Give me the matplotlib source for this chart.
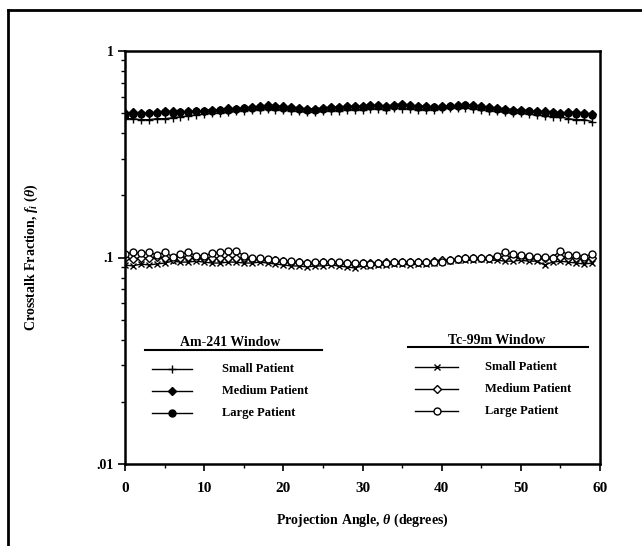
import matplotlib
matplotlib.use("Agg")
import matplotlib.pyplot as plt
from matplotlib.lines import Line2D
import numpy as np

plt.rcParams['font.family'] = ['Liberation Serif', 'DejaVu Serif']
plt.rcParams['mathtext.fontset'] = 'custom'
plt.rcParams['mathtext.it'] = 'Liberation Serif:italic:bold'
plt.rcParams['mathtext.rm'] = 'Liberation Serif:bold'

angles = list(range(60))

am_small = [0.47, 0.47, 0.465, 0.465, 0.47, 0.47, 0.475, 0.48, 0.485, 0.49,
            0.495, 0.50, 0.50, 0.505, 0.51, 0.515, 0.52, 0.52, 0.525, 0.52,
            0.52, 0.515, 0.51, 0.505, 0.505, 0.51, 0.515, 0.515, 0.52, 0.52,
            0.52, 0.525, 0.525, 0.52, 0.53, 0.525, 0.525, 0.52, 0.52, 0.52,
            0.525, 0.53, 0.53, 0.53, 0.525, 0.52, 0.515, 0.51, 0.505, 0.50,
            0.50, 0.495, 0.49, 0.485, 0.48, 0.48, 0.47, 0.465, 0.465, 0.455]
am_medium = [0.50, 0.505, 0.50, 0.50, 0.505, 0.51, 0.51, 0.505, 0.51, 0.51,
             0.515, 0.52, 0.52, 0.53, 0.525, 0.53, 0.535, 0.54, 0.545, 0.54,
             0.54, 0.535, 0.53, 0.525, 0.525, 0.53, 0.535, 0.535, 0.54, 0.54,
             0.54, 0.545, 0.545, 0.54, 0.55, 0.555, 0.545, 0.54, 0.54, 0.535,
             0.54, 0.54, 0.545, 0.55, 0.545, 0.54, 0.535, 0.53, 0.525, 0.52,
             0.52, 0.515, 0.51, 0.51, 0.505, 0.50, 0.505, 0.505, 0.50, 0.495]
am_large = [0.49, 0.495, 0.495, 0.50, 0.50, 0.505, 0.50, 0.505, 0.505, 0.51,
            0.51, 0.515, 0.52, 0.52, 0.525, 0.53, 0.53, 0.535, 0.535, 0.535,
            0.53, 0.53, 0.525, 0.52, 0.52, 0.525, 0.53, 0.53, 0.535, 0.535,
            0.535, 0.54, 0.54, 0.535, 0.54, 0.545, 0.54, 0.535, 0.535, 0.535,
            0.535, 0.54, 0.54, 0.545, 0.54, 0.535, 0.53, 0.525, 0.52, 0.515,
            0.515, 0.51, 0.505, 0.50, 0.50, 0.495, 0.50, 0.495, 0.495, 0.49]
tc_small = [0.092, 0.091, 0.093, 0.092, 0.093, 0.094, 0.096, 0.095, 0.095, 0.096,
            0.095, 0.094, 0.094, 0.095, 0.095, 0.094, 0.094, 0.095, 0.094, 0.093,
            0.092, 0.091, 0.091, 0.090, 0.091, 0.091, 0.092, 0.091, 0.090, 0.089,
            0.091, 0.091, 0.092, 0.092, 0.093, 0.093, 0.092, 0.093, 0.093, 0.094,
            0.095, 0.096, 0.097, 0.097, 0.097, 0.098, 0.097, 0.097, 0.096, 0.096,
            0.097, 0.096, 0.096, 0.092, 0.095, 0.096, 0.095, 0.094, 0.093, 0.094]
tc_medium = [0.100, 0.098, 0.100, 0.099, 0.101, 0.100, 0.098, 0.100, 0.101, 0.100,
             0.099, 0.100, 0.099, 0.100, 0.100, 0.099, 0.098, 0.098, 0.097, 0.097,
             0.096, 0.095, 0.095, 0.094, 0.094, 0.095, 0.095, 0.094, 0.094, 0.093,
             0.094, 0.094, 0.094, 0.095, 0.095, 0.095, 0.095, 0.095, 0.095, 0.096,
             0.097, 0.097, 0.098, 0.099, 0.099, 0.100, 0.100, 0.101, 0.101, 0.100,
             0.101, 0.100, 0.100, 0.100, 0.099, 0.101, 0.100, 0.099, 0.098, 0.100]
tc_large = [0.104, 0.106, 0.105, 0.106, 0.103, 0.106, 0.101, 0.104, 0.106, 0.102,
            0.102, 0.105, 0.106, 0.107, 0.108, 0.102, 0.099, 0.099, 0.098, 0.097,
            0.096, 0.096, 0.095, 0.094, 0.095, 0.095, 0.095, 0.095, 0.094, 0.094,
            0.094, 0.093, 0.094, 0.094, 0.095, 0.095, 0.095, 0.095, 0.095, 0.095,
            0.095, 0.097, 0.098, 0.099, 0.099, 0.099, 0.100, 0.102, 0.106, 0.104,
            0.103, 0.102, 0.101, 0.101, 0.100, 0.108, 0.103, 0.103, 0.101, 0.104]

patient_labels = ['Small Patient', 'Medium Patient', 'Large Patient']
window_titles = ['Am-241 Window', 'Tc-99m Window']
x_ticks = [0, 10, 20, 30, 40, 50, 60]
y_ticks = [0.01, 0.1, 1]
y_ticklabels = ['.01', '.1', '1']

W, H = 642, 546
fig = plt.figure(figsize=(W / 100, H / 100), dpi=100)

def fx(x):
    return x / W

def fy(y):
    return 1 - y / H

ax = fig.add_axes([fx(125), fy(464), fx(600) - fx(125), fy(51) - fy(464)])

styles = [
    (am_small, dict(marker='+', ms=6, mew=1.0, mfc='black')),
    (am_medium, dict(marker='D', ms=4, mfc='black')),
    (am_large, dict(marker='o', ms=5, mfc='black')),
    (tc_small, dict(marker='x', ms=4.5, mew=1.0, mfc='black')),
    (tc_medium, dict(marker='D', ms=4, mfc='white')),
    (tc_large, dict(marker='o', ms=5, mfc='white')),
]
for vals, st in styles:
    ax.plot(angles, vals, color='black', lw=1.0, mec='black', **st)

ax.set_yscale('log')
ax.set_ylim(0.01, 1)
ax.set_xlim(0, 60)
ax.set_xticks(x_ticks)
ax.set_xticklabels([str(t) for t in x_ticks], fontsize=11, fontweight='bold')
ax.set_xticks([5, 15, 25, 35, 45, 55], minor=True)
ax.set_yticks(y_ticks)
ax.set_yticklabels(y_ticklabels, fontsize=10, fontweight='bold')
ax.yaxis.set_minor_formatter(matplotlib.ticker.NullFormatter())
ax.tick_params(axis='both', which='major', direction='out', length=5, width=1.2)
ax.tick_params(axis='both', which='minor', direction='out', length=3, width=1.0)
ax.tick_params(axis='x', pad=8)
ax.tick_params(axis='y', pad=3)
for s in ax.spines.values():
    s.set_linewidth(1.8)

# axis labels
fig.text(fx(31), fy(257), r'Crosstalk Fraction, $f_i$ ($\theta$)', rotation=90,
         ha='center', va='center', fontsize=10, fontweight='bold')
fig.text(fx(362), fy(520), r'Projection Angle, $\theta$ (degrees)',
         ha='center', va='center', fontsize=10, fontweight='bold')

# custom legend groups
groups = [
    dict(title=window_titles[0], cx=230, ty=342, uy=350, ux0=145, ux1=322,
         lx0=152, lx1=192, tx=222, rows=[369, 391, 413], st=styles[:3]),
    dict(title=window_titles[1], cx=497, ty=340, uy=347, ux0=408, ux1=588,
         lx0=415, lx1=458, tx=485, rows=[367, 389, 411], st=styles[3:]),
]
for g in groups:
    fig.text(fx(g['cx']), fy(g['ty']), g['title'], ha='center', va='center',
             fontsize=10, fontweight='bold')
    fig.add_artist(Line2D([fx(g['ux0']), fx(g['ux1'])], [fy(g['uy']), fy(g['uy'])],
                          color='black', lw=1.5, transform=fig.transFigure))
    for ry, lab, (vals, st) in zip(g['rows'], patient_labels, g['st']):
        fig.add_artist(Line2D([fx(g['lx0']), fx(g['lx1'])], [fy(ry), fy(ry)],
                              color='black', lw=1.0, transform=fig.transFigure))
        fig.add_artist(Line2D([fx((g['lx0'] + g['lx1']) / 2)], [fy(ry)],
                              color='black', lw=0, mec='black',
                              transform=fig.transFigure, **st))
        fig.text(fx(g['tx']), fy(ry), lab, ha='left', va='center',
                 fontsize=9, fontweight='bold')

# outer page frame (top and left edges)
fig.add_artist(Line2D([fx(8), 1.0], [fy(10), fy(10)], color='black', lw=2,
                      transform=fig.transFigure))
fig.add_artist(Line2D([fx(8), fx(8)], [fy(10), 0.0], color='black', lw=2,
                      transform=fig.transFigure))

fig.savefig('out.png', dpi=100)
